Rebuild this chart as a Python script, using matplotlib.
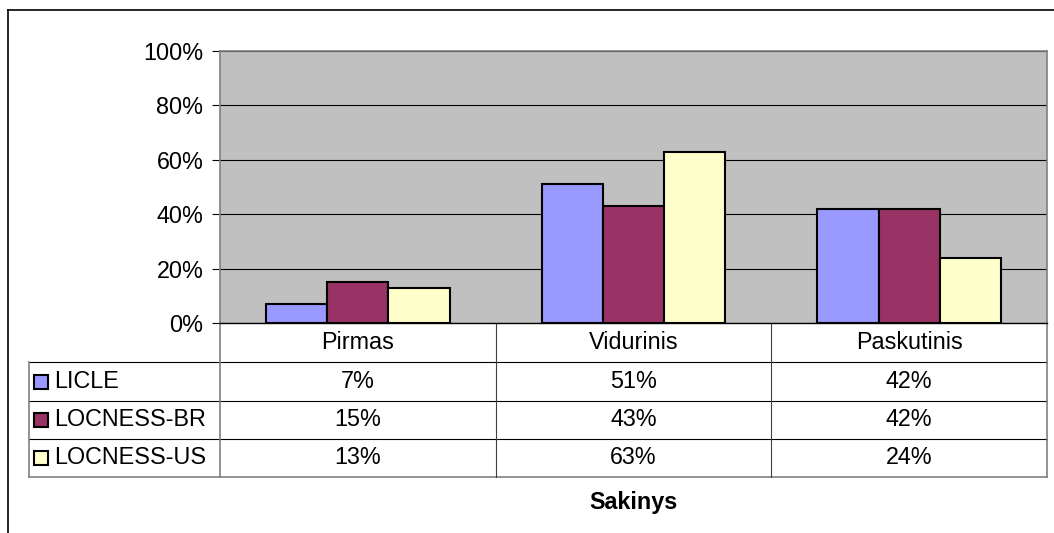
import numpy as np
import matplotlib.pyplot as plt
from matplotlib.patches import Rectangle

# data
categories = ['Pirmas', 'Vidurinis', 'Paskutinis']
series = ['LICLE', 'LOCNESS-BR', 'LOCNESS-US']
licle = [7, 51, 42]
locness_br = [15, 43, 42]
locness_us = [13, 63, 24]
yticks = [0, 20, 40, 60, 80, 100]
xlabel = 'Sakinys'

values = [licle, locness_br, locness_us]
colors = ['#9999FF', '#993366', '#FFFFCC']

W, H = 1054, 533
plt.rcParams['font.family'] = ['Liberation Sans', 'DejaVu Sans']
fs = 16.8

def px(x0, y0, x1, y1):
    # pixel box (top-left origin) -> figure fraction
    return [x0 / W, 1 - y1 / H, (x1 - x0) / W, (y1 - y0) / H]

fig = plt.figure(figsize=(W / 100, H / 100), dpi=100)

# overlay in pixel coords for the data table and frame
ov = fig.add_axes([0, 0, 1, 1])
ov.set_xlim(0, W)
ov.set_ylim(H, 0)
ov.axis('off')

L, R, T, B = 220, 1047, 51, 323
ax = fig.add_axes(px(L, T, R, B))
ax.set_facecolor('#C0C0C0')

x = np.arange(len(categories))
w = 1 / 4.5
for i, (vals, c) in enumerate(zip(values, colors)):
    ax.bar(x + (i - 1) * w, vals, w, color=c, edgecolor='black', linewidth=1.5, zorder=3)

ax.set_xlim(-0.5, len(categories) - 0.5)
ax.set_ylim(0, 100)
ax.set_yticks(yticks)
ax.set_yticklabels([f'{t}%' for t in yticks], fontsize=fs)
ax.set_xticks([])
ax.yaxis.grid(True, color='black', linewidth=0.8)
ax.set_axisbelow(True)
ax.tick_params(axis='y', direction='out', length=6, width=0.8, pad=6, color='black')
for s in ['top', 'right', 'left']:
    ax.spines[s].set_color('#808080')
    ax.spines[s].set_linewidth(1.2)
ax.spines['bottom'].set_color('black')
ax.spines['bottom'].set_linewidth(1)

# data table under the plot
cols = np.linspace(L, R, len(categories) + 1)
rows = [B, 362, 401, 439, 477]
lab_left = 29
grey = '#808080'
lw = 0.8

for y in rows[1:-1]:
    ov.plot([lab_left, R], [y, y], color='black', lw=lw)
ov.plot([lab_left, R], [rows[-1], rows[-1]], color=grey, lw=1.2)
ov.plot([lab_left, lab_left], [rows[1], rows[-1]], color=grey, lw=1.2)
ov.plot([L, L], [B, rows[-1]], color=grey, lw=1.2)
ov.plot([R, R], [B, rows[-1]], color=grey, lw=1.2)
for cx in cols[1:-1]:
    ov.plot([cx, cx], [B, rows[-1]], color='#404040', lw=lw)

mids = (cols[:-1] + cols[1:]) / 2
for m, cat in zip(mids, categories):
    ov.text(m, (rows[0] + rows[1]) / 2, cat, ha='center', va='center', fontsize=fs)

for r, (name, vals, c) in enumerate(zip(series, values, colors)):
    ym = (rows[r + 1] + rows[r + 2]) / 2
    ov.add_patch(Rectangle((34, ym - 7), 14, 14, facecolor=c, edgecolor='black', lw=1.5))
    ov.text(54, ym, name, ha='left', va='center', fontsize=fs)
    for m, v in zip(mids, vals):
        ov.text(m, ym, f'{v}%', ha='center', va='center', fontsize=fs)

ov.text((L + R) / 2, 502, xlabel, ha='center', va='center', fontsize=fs, fontweight='bold')

# chart frame (right/bottom edges fall outside the picture)
ov.plot([8, W], [10, 10], color='black', lw=1.2)
ov.plot([8, 8], [10, H], color='black', lw=1.2)

fig.savefig('out.png', dpi=100)
